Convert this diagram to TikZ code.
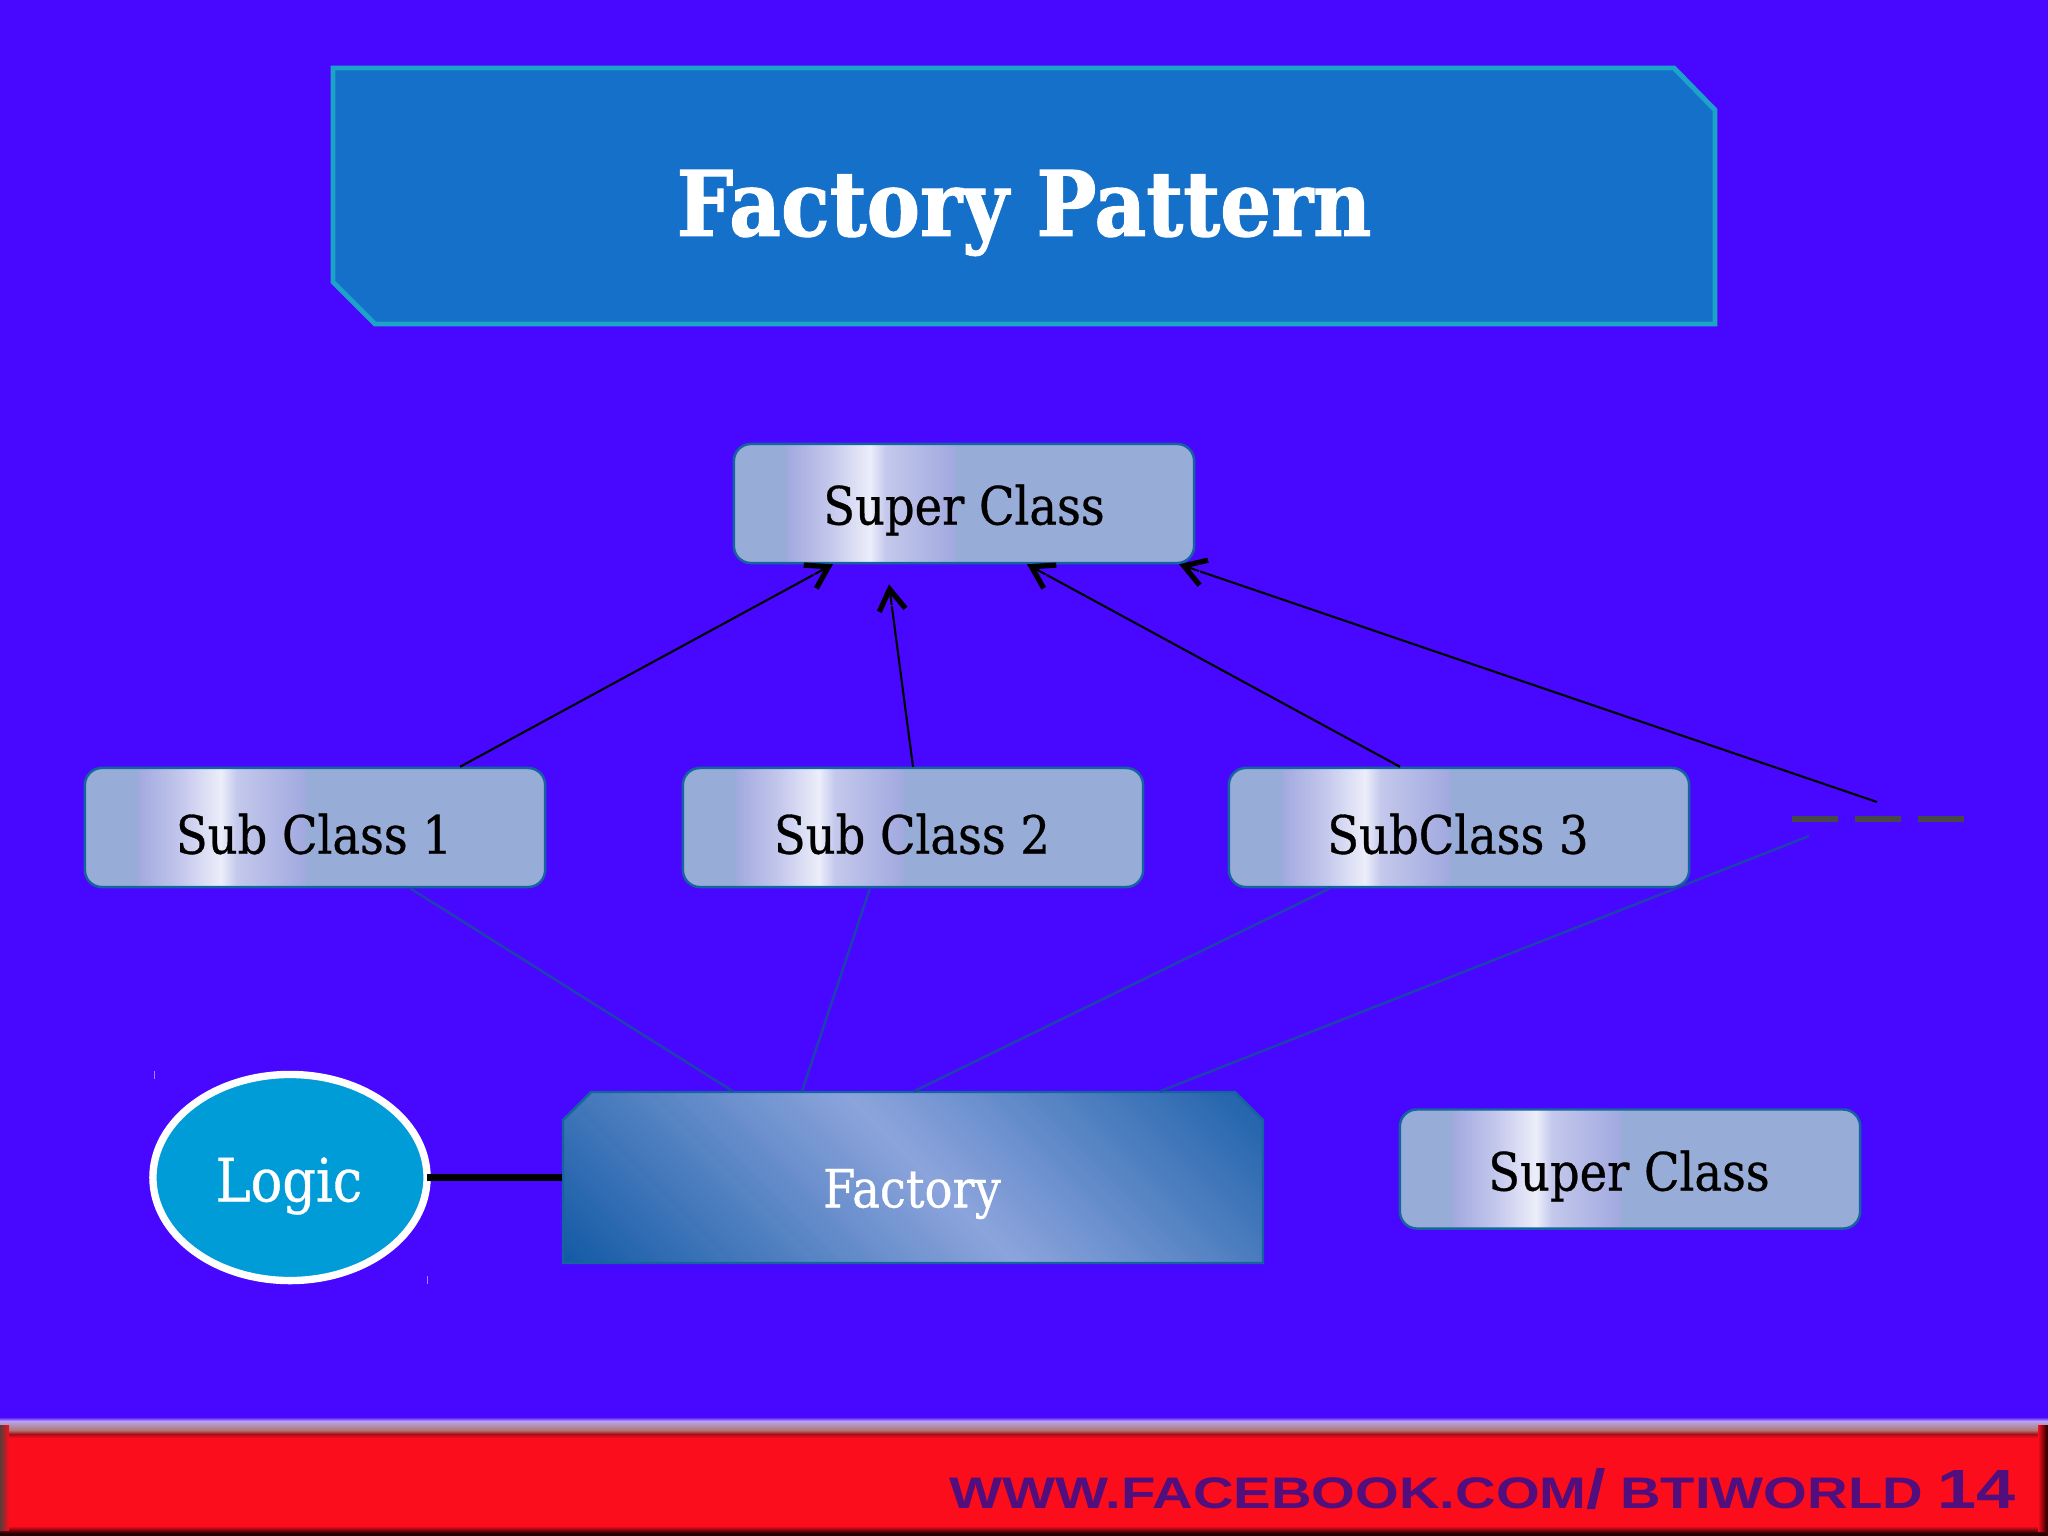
\documentclass[tikz,border=0pt]{standalone}
\usepackage{fontspec}
\usepackage{graphicx}
\usetikzlibrary{arrows.meta,calc,shapes.geometric}
\newfontfamily\slab[FakeStretch=0.88,FakeBold=0.6]{DejaVu Serif}
\newfontfamily\slabt[FakeStretch=0.885,FakeBold=1.2]{DejaVu Serif Bold}
\newfontfamily\wide{Liberation Sans}
\definecolor{bgc}{HTML}{4808FF}
\definecolor{titlefill}{HTML}{1470C8}
\definecolor{titleedge}{HTML}{1CA4C8}
\definecolor{boxbase}{HTML}{98ACD8}
\definecolor{boxedge}{HTML}{1464A0}
\definecolor{bandedge}{HTML}{A2A9DF}
\definecolor{bandmid}{HTML}{C4C8EC}
\definecolor{bandpeak}{HTML}{ECEEFA}
\definecolor{linkc}{HTML}{1F42B0}
\definecolor{facdark}{HTML}{155CA6}
\definecolor{faclight}{HTML}{8CA4DC}
\definecolor{logicfill}{HTML}{009CD8}
\definecolor{foot}{HTML}{FB0D1B}
\definecolor{footlav}{HTML}{B8A4F0}
\definecolor{foottan}{HTML}{AE7A72}
\definecolor{footdark}{HTML}{A80C1C}
\definecolor{ftext}{HTML}{520E7C}
\pgfdeclarehorizontalshading{classband}{100bp}{
  color(0bp)=(boxbase); color(30.7bp)=(boxbase); color(30.8bp)=(bandedge);
  color(35.5bp)=(bandmid); color(39.8bp)=(bandpeak); color(41.5bp)=(bandmid);
  color(48.9bp)=(bandedge); color(49bp)=(boxbase); color(100bp)=(boxbase)}
\tikzset{
  classbox/.style={draw=boxedge,line width=0.7pt,rounded corners=0.17cm,
    shade,shading=classband,shading angle=0,
    minimum width=4.6cm,minimum height=1.19cm,inner sep=0pt,text=black},
  shaft/.style={black,line width=0.6pt,shorten >=6.3pt},
  barbtip/.style={black,line width=0.6pt,-{Straight Barb[length=6pt,width=7.5pt,line width=1.5pt]}},
  factorylink/.style={linkc,line width=0.7pt},
  boxtext/.style={inner sep=0pt,font={\slab\fontsize{15}{18}\selectfont}},
  tick/.style={draw=white!50!bgc,line width=0.2pt}
}
\begin{document}
\begin{tikzpicture}[x=0.01cm,y=-0.01cm]
\useasboundingbox (0,0) rectangle (2048,1536);
\fill[bgc] (0,0) rectangle (2048,1536);
% title
\draw[fill=titlefill,draw=titleedge,line width=1.4pt]
  (333,68) -- (1674,68) -- (1715,110) -- (1715,324) -- (375,324) -- (333,282) -- cycle;
\node[inner sep=0pt,text=white,font={\slabt\fontsize{25.7}{30}\selectfont}] (title) at (1024,213) {Factory Pattern};
% class boxes
\node[classbox] (super) at (964,503.5) {};
\node[classbox] (sub1) at (315,827.5) {};
\node[classbox] (sub2) at (913,827.5) {};
\node[classbox] (sub3) at (1459,827.5) {};
\node[classbox] (super2) at (1630,1169) {};
\node[boxtext] (tsuper) at (964,510) {Super Class};
\node[boxtext] (tsub1) at (314,834) {Sub Class 1};
\node[boxtext] (tsub2) at (912,834) {Sub Class 2};
\node[boxtext] (tsub3) at (1458,834) {SubClass 3};
\node[boxtext] (tsuper2) at (1629,1176) {Super Class};
% dashes
\coordinate (dashL) at (1792,819);
\coordinate (dashR) at (1964,819);
\draw[draw=black!72,line width=1.7pt,dash pattern=on 13pt off 4.9pt] (dashL) -- (dashR);
\coordinate (dashTop) at (1877,802);
\coordinate (dashBot) at (1809,836);
% factory
\begin{scope}
  \clip (591,1092) -- (1235,1092) -- (1263,1120) -- (1263,1263) -- (563,1263) -- (563,1120) -- cycle;
  \foreach \s in {-470,-462,...,430} {
    \pgfmathtruncatemacro{\pct}{min(100,abs(\s+4)/4.4)}
    \fill[facdark!\pct!faclight] (846+\s,1092) -- (1017+\s,1263) -- (1500,1263) -- (1500,1092) -- cycle;
  }
\end{scope}
\draw[boxedge,line width=0.7pt] (591,1092) -- (1235,1092) -- (1263,1120) -- (1263,1263) -- (563,1263) -- (563,1120) -- cycle;
\node[minimum width=7cm,minimum height=1.71cm,inner sep=0pt] (factory) at (913,1177.5) {};
\node[inner sep=0pt,text=white,font={\slab\fontsize{15}{18}\selectfont}] (tfactory) at (912,1194) {Factory};
% logic
\node[ellipse,draw=white,line width=2.1pt,fill=logicfill,minimum width=2.74cm,minimum height=2.06cm,inner sep=0pt] (logic) at (290,1177.5) {};
\node[inner sep=0pt,text=white,font={\slab\fontsize{17}{20}\selectfont}] (tlogic) at (289,1186) {Logic};
\draw[black,line width=2pt] ([xshift=-.04cm]logic.east) -- (factory.west);
\coordinate (t1a) at (154,1071); \coordinate (t1b) at (154,1079);
\coordinate (t2a) at (427,1276); \coordinate (t2b) at (427,1284);
\draw[tick] (t1a) -- (t1b);
\draw[tick] (t2a) -- (t2b);
% inheritance arrows
\coordinate (s1) at ([xshift=1.45cm]sub1.north);
\coordinate (s2) at (sub2.north);
\coordinate (s3) at ([xshift=-.59cm]sub3.north);
\coordinate (h1) at ([xshift=-1.31cm]super.south);
\coordinate (h2) at ([xshift=-.75cm,yshift=-.2cm]super.south);
\coordinate (h3) at ([xshift=.63cm]super.south);
\coordinate (h4) at ([xshift=2.15cm]super.south);
\draw[shaft] (s1) -- (h1);
\draw[shaft] (s2) -- (h2);
\draw[shaft] (s3) -- (h3);
\draw[shaft] (dashTop) -- (h4);
\draw[barbtip] ($(h1)!6pt!(s1)$) -- (h1);
\draw[barbtip] ($(h2)!6pt!(s2)$) -- (h2);
\draw[barbtip] ($(h3)!6pt!(s3)$) -- (h3);
\draw[barbtip] ($(h4)!6pt!(dashTop)$) -- (h4);
% factory links
\draw[factorylink] ([xshift=.95cm]sub1.south) -- ([xshift=-1.8cm]factory.north);
\draw[factorylink] ([xshift=-.43cm]sub2.south) -- ([xshift=-1.11cm]factory.north);
\draw[factorylink] ([xshift=-1.29cm]sub3.south) -- ([xshift=.01cm]factory.north);
\draw[factorylink] (dashBot) -- ([xshift=2.47cm]factory.north);
% footer
\shade[top color=bgc,bottom color=footlav] (0,1417) rectangle (2048,1421);
\shade[top color=footlav,bottom color=foottan] (0,1421) rectangle (2048,1430);
\shade[top color=foottan,bottom color=footdark] (0,1430) rectangle (2048,1434);
\shade[top color=footdark,bottom color=foot] (0,1434) rectangle (2048,1438);
\fill[foot] (0,1438) rectangle (2048,1526);
\shade[top color=foot,bottom color=black!85!red] (0,1526) rectangle (2048,1533);
\fill[black!85!red] (0,1533) rectangle (2048,1536);
\shade[left color=black!50!foottan,right color=foot] (0,1425) rectangle (9,1530);
\shade[left color=foot,right color=black!75!red] (2038,1425) rectangle (2046,1531);
\fill[black!75!red] (2046,1425) rectangle (2048,1536);
\node[inner sep=0pt,anchor=base east,text=ftext] (fb) at (2016,1508)
  {\resizebox{10.65cm}{0.40cm}{\wide\bfseries WWW.FACEBOOK.COM{\fontsize{12.5}{14}\selectfont/}\kern.25em BTIWORLD\kern.25em{\fontsize{12.5}{14}\selectfont 14}}};
\end{tikzpicture}
\end{document}
